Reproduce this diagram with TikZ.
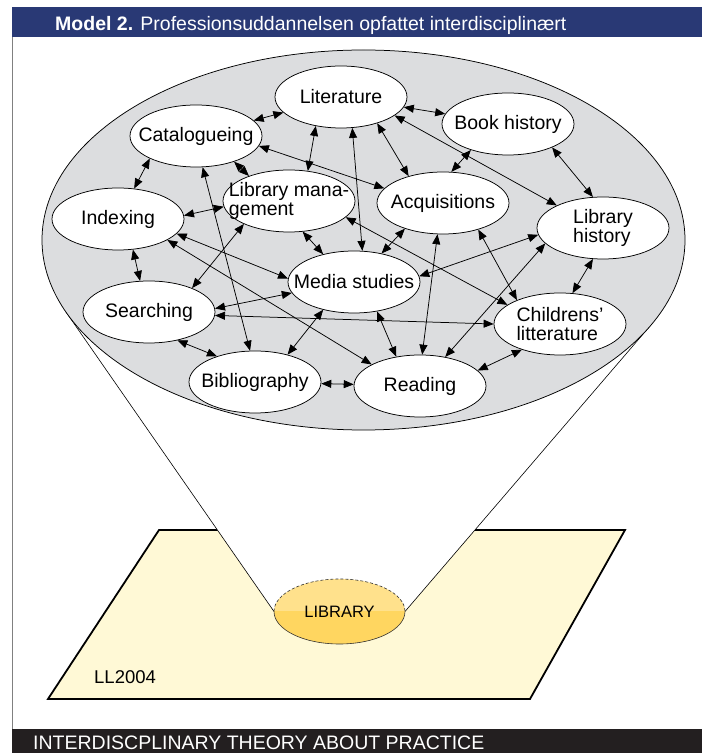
\documentclass[tikz,border=0pt]{standalone}
\usepackage{fontspec}
\setmainfont{Liberation Sans}
\usetikzlibrary{shapes.geometric,arrows.meta}

\definecolor{bandblue}{RGB}{41,57,117}
\definecolor{bandblack}{RGB}{35,31,32}
\definecolor{fieldgray}{RGB}{220,221,223}
\definecolor{plane}{RGB}{255,249,214}
\definecolor{libtop}{RGB}{255,225,140}
\definecolor{libbottom}{RGB}{255,214,96}

\begin{document}
\begin{tikzpicture}[x=1pt, y=1pt, node distance=60pt,
			base/.style={font=\fontsize{19.5}{18.5}\selectfont},
			topic/.style={base, draw, ellipse, fill=white, line width=0.75pt, minimum width=132pt, minimum height=62pt, inner xsep=-14pt, inner ysep=0pt, align=left},
			link/.style={{Triangle[length=10pt,width=8pt]}-{Triangle[length=10pt,width=8pt]}, line width=0.75pt},
			library/.style={ellipse, minimum width=131pt, minimum height=65pt, inner sep=0pt, fill=libtop, font=\fontsize{16.5}{18}\selectfont, path picture={\fill[libbottom] (path picture bounding box.west) rectangle (path picture bounding box.south east);}},
		]
		\useasboundingbox (0,0) rectangle (702,753);

		\fill[bandblue] (12,716) rectangle (702,746);
		\node[base, text=white, anchor=base west, inner sep=0pt] (title) at (55,722) {\textbf{Model 2.} Professionsuddannelsen opfattet interdisciplinært};
		\draw[gray, line width=1pt] (12,24) -- (12,716);

		\filldraw[fill=plane, line width=1.8pt] (48,54) -- (530,54) -- (625,223) -- (159,223) -- cycle;
		\coordinate (cone-left) at (66,441);
		\coordinate (cone-right) at (650,427);
		\coordinate (library-west) at (274,141.5);
		\coordinate (library-east) at (405,141.5);
		\fill[white] (cone-left) -- (library-west) -- (library-east) -- (cone-right) -- cycle;
		\draw[line width=0.6pt] (cone-left) -- (library-west);
		\draw[line width=0.6pt] (cone-right) -- (library-east);
		\filldraw[fill=fieldgray, line width=0.75pt] (363.5,513) ellipse [x radius=321.5pt, y radius=190pt];

		\node[library] (library) at (339.5,141.5) {LIBRARY};
		\draw[dash pattern=on 3pt off 2pt, line width=0.6pt, black!80] (library-west) arc[start angle=180, end angle=0, x radius=65.5pt, y radius=32.5pt];
		\draw[line width=0.6pt, black!80] (library-west) arc[start angle=180, end angle=360, x radius=65.5pt, y radius=32.5pt];
		\node[anchor=base west, inner sep=0pt, font=\fontsize{18.5}{20}\selectfont] (ll2004) at (94,69) {LL2004};

		\node[topic] (literature) at (341,656) {Literature};
		\node[topic, right of=literature, xshift=107pt, yshift=-27pt] (book-history) {Book history};
		\node[topic, left of=literature, xshift=-85pt, yshift=-39pt] (catalogueing) {Catalogueing};
		\node[topic, below of=catalogueing, xshift=93pt, yshift=-5pt] (library-management) {Library mana-\\gement};
		\node[topic, below of=literature, xshift=102pt, yshift=-46pt] (acquisitions) {Acquisitions};
		\node[topic, below of=catalogueing, xshift=-78pt, yshift=-23pt] (indexing) {Indexing};
		\node[topic, below of=book-history, xshift=95pt, yshift=-44pt] (library-history) {Library\\history};
		\node[topic, below of=library-management, xshift=65pt, yshift=-21pt] (media-studies) {Media studies};
		\node[topic, below of=indexing, xshift=31pt, yshift=-33pt] (searching) {Searching};
		\node[topic, below of=library-history, xshift=-43pt, yshift=-36pt] (childrens-litterature) {Childrens'\\litterature};
		\node[topic, below of=searching, xshift=106pt, yshift=-10pt] (bibliography) {Bibliography};
		\node[topic, right of=bibliography, xshift=105pt, yshift=-4pt] (reading) {Reading};

		\draw[link] (catalogueing) -- (literature);
		\draw[link] (literature) -- (book-history);
		\draw[link] (catalogueing.206) -- (indexing.62);
		\draw[link] (literature.229) -- (library-management.58);
		\draw[link] (literature.290) -- (media-studies.75);
		\draw[link] (literature.324) -- (acquisitions.142);
		\draw[link] (literature.341) -- (library-history.154);
		\draw[link] (catalogueing.351) -- (acquisitions.166);
		\draw[link] (catalogueing.326) -- (library-management.148);
		\draw[link] (catalogueing.282) -- (bibliography.99);
		\draw[link] (indexing.3) -- (library-management.185);
		\draw[link] (library-management.207) -- (searching.29);
		\draw[link] (library-management.294) -- (media-studies.138);
		\draw[link] (acquisitions.214) -- (media-studies.46);
		\draw[link] (acquisitions.75) -- (book-history.215);
		\draw[link] (book-history.332) -- (library-history.108);
		\draw[link] (indexing.296) -- (searching.106);
		\draw[link] (indexing.346) -- (media-studies.177);
		\draw[link] (indexing.337) -- (reading.156);
		\draw[link] (searching.3) -- (media-studies.190);
		\draw[link] (searching.357) -- (childrens-litterature.180);
		\draw[link] (searching.315) -- (bibliography.146);
		\draw[link] (media-studies.222) -- (bibliography.40);
		\draw[link] (media-studies.308) -- (reading.129);
		\draw[link] (bibliography) -- (reading);
		\draw[link] (library-management.344) -- (childrens-litterature.160);
		\draw[link] (acquisitions.323) -- (childrens-litterature.151);
		\draw[link] (acquisitions.260) -- (reading.86);
		\draw[link] (library-history.186) -- (media-studies.5);
		\draw[link] (library-history.195) -- (reading.49);
		\draw[link] (library-history.252) -- (childrens-litterature.68);
		\draw[link] (childrens-litterature.214) -- (reading.15);

		\fill[bandblack] (12,0) rectangle (702,24);
		\node[anchor=base west, inner sep=0pt, text=white, font=\fontsize{19.5}{20}\selectfont] (footer) at (33,3) {INTERDISCPLINARY THEORY ABOUT PRACTICE};
\end{tikzpicture}
\end{document}
